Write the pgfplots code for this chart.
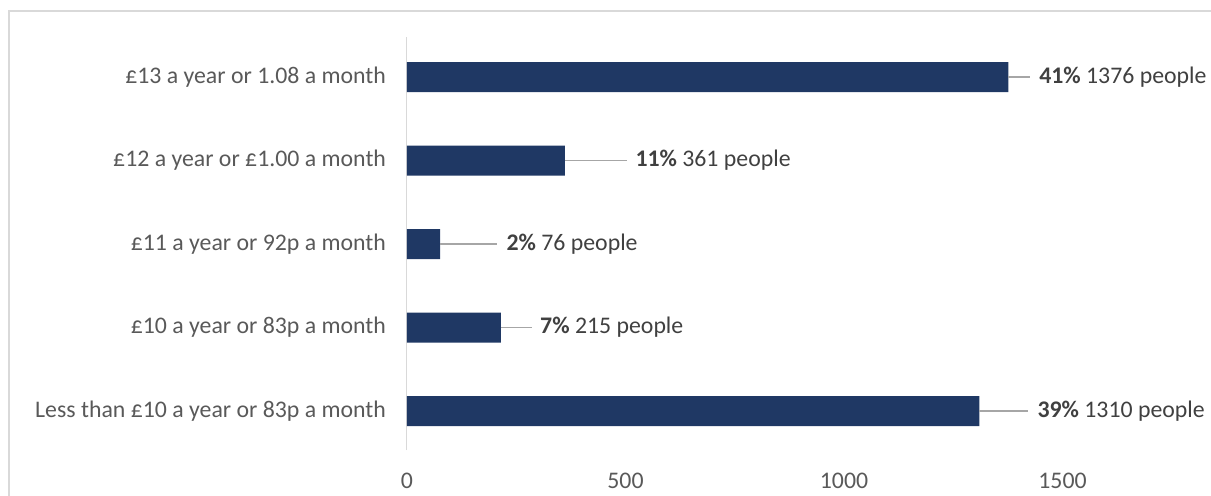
\documentclass[border=0pt]{standalone}
\usepackage{pgfplots}
\pgfplotsset{compat=1.18}
\usepackage{fontspec}
\setmainfont{Carlito}
\definecolor{barblue}{HTML}{1F3864}
\definecolor{txtgray}{HTML}{595959}
\definecolor{lblgray}{HTML}{404040}
\definecolor{leadergray}{HTML}{A6A6A6}
\definecolor{framegray}{HTML}{D9D9D9}
\begin{document}
\begin{tikzpicture}
\begin{axis}[
  scale only axis,
  width=437pt,
  height=206.5pt,
  xbar,
  bar width=15pt,
  bar shift=0pt,
  xmin=0, xmax=2000,
  ymin=-0.467, ymax=4.48,
  axis line style={draw=none},
  major tick length=0pt,
  xtick={0,500,1000,1500},
  ytick={0,1,2,3,4},
  yticklabels={Less than £10 a year or 83p a month,
    £10 a year or 83p a month,
    £11 a year or 92p a month,
    £12 a year or £1.00 a month,
    £13 a year or 1.08 a month},
  font=\fontsize{11.9pt}{14pt}\selectfont,
  tick label style={text=txtgray},
  /pgf/number format/assume math mode=true,
  /pgf/number format/1000 sep={},
  xticklabel style={yshift=-8pt},
  yticklabel style={xshift=-7pt},
  clip=false,
]
\draw[framegray, line width=0.5pt] (rel axis cs:0,0) -- (rel axis cs:0,1);
\addplot[fill=barblue, draw=none] coordinates {
  (1310,0) (215,1) (76,2) (361,3) (1376,4)
};
% leader lines and data labels
\draw[leadergray, line width=0.7pt] (axis cs:1376,4) -- (axis cs:1426,4);
\draw[leadergray, line width=0.7pt] (axis cs:361,3) -- (axis cs:503,3);
\draw[leadergray, line width=0.7pt] (axis cs:76,2) -- (axis cs:206,2);
\draw[leadergray, line width=0.7pt] (axis cs:215,1) -- (axis cs:286,1);
\draw[leadergray, line width=0.7pt] (axis cs:1310,0) -- (axis cs:1421,0);
\node[anchor=west, inner sep=0pt, text=lblgray] at (axis cs:1446,4) {\textbf{41\%} 1376 people};
\node[anchor=west, inner sep=0pt, text=lblgray] at (axis cs:522,3) {\textbf{11\%} 361 people};
\node[anchor=west, inner sep=0pt, text=lblgray] at (axis cs:227,2) {\textbf{2\%} 76 people};
\node[anchor=west, inner sep=0pt, text=lblgray] at (axis cs:304,1) {\textbf{7\%} 215 people};
\node[anchor=west, inner sep=0pt, text=lblgray] at (axis cs:1442,0) {\textbf{39\%} 1310 people};
\end{axis}
% chart frame: only the top and left edges fall inside the picture
\draw[framegray, line width=1pt] (-199pt,-40pt) -- (-199pt,219.5pt) -- (402pt,219.5pt);
\pgfresetboundingbox
\useasboundingbox (-203.5pt,-22.5pt) rectangle (402pt,225pt);
\end{tikzpicture}
\end{document}
